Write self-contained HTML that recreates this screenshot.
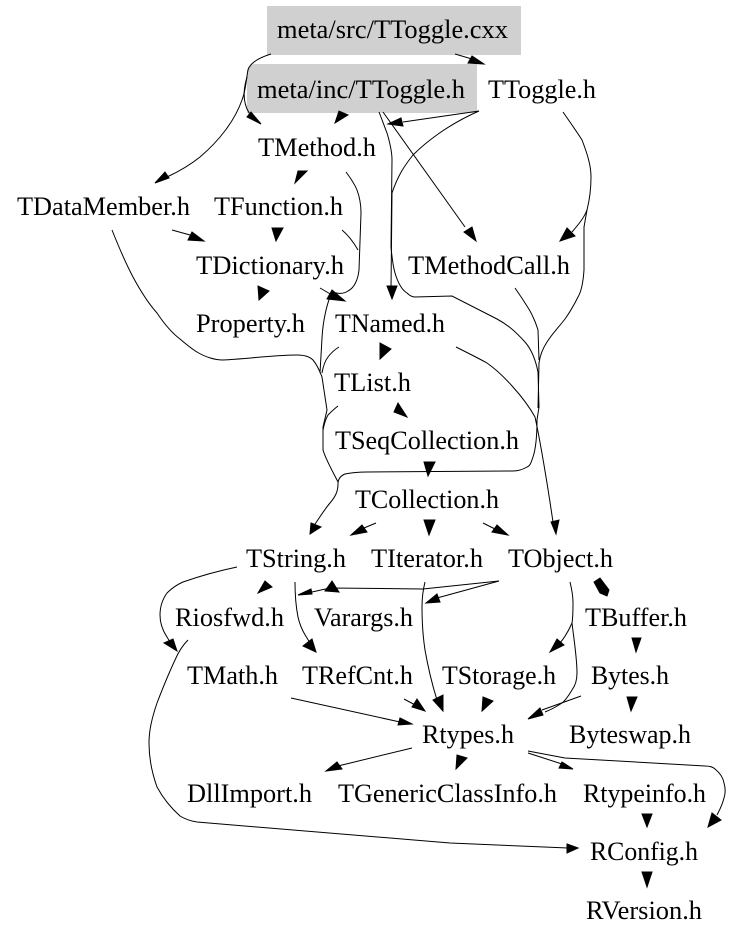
<!DOCTYPE html>
<html><head><meta charset="utf-8"><style>
html,body{margin:0;padding:0;background:#fff}
svg{display:block}
text{font-family:"Liberation Serif",serif;font-size:26.5px;fill:#000}
path{fill:none;stroke:#000;stroke-width:1}
polygon{fill:#000;stroke:#000;stroke-width:1;stroke-linejoin:miter}
</style></head><body>
<svg width="735" height="939" viewBox="0 0 735 939" xmlns="http://www.w3.org/2000/svg">
<rect x="267" y="6" width="254" height="49" fill="#d0d0d0"/>
<path d="M247 72 Q247 64 256 64 L477 64 L477 113 L247 113 Z" style="fill:#d0d0d0;stroke:none"/>

<path d="M271 54 C258 58 250 63 248 70 C246 80 246 90 242 100 C235 120 220 140 200 157 C190 165 180 171 167 177"/>
<path d="M247 77 C243 90 242 105 252 117"/>
<path d="M455 54 L472 59"/>
<path d="M346 172 C352 180 355 185 357 190 C360 198 361 205 361 213 L359 270 C358 280 354 288 348 291 C342 295 337 293 332 292 C327 303 323 320 322 338 L320 373"/>
<path d="M342 230 C348 235 354 243 358 250"/>
<path d="M479 111 L403 122"/>
<path d="M479 111 C447 125 425 143 413 155 C405 165 398 175 392 193 L391 290"/>
<path d="M379 112 C383 122 385 128 387 133 C390 143 392 153 392 160 L391 247 C392 258 393 266 395 273 C398 283 402 290 407 293 C410 296 412 297 415 297 L452 296 L497 319 C508 325 515 331 525 342 C532 350 536 362 538 372 L539 407 L537 420 C537 435 536 448 533 457 C531 463 530 466 527 467 C522 470 518 471 513 471 L367 472 C358 472 350 473 345 474 C340 476 338 480 338 484 C338 492 335 497 330 503 C324 510 318 520 313 527"/>
<path d="M383 112 L465 227"/>
<path d="M563 112 C572 125 577 132 582 140 C587 153 591 165 591 177 C591 190 589 202 587 210 C584 218 578 225 572 232"/>
<path d="M587 210 L584 227 L584 270 C583 285 581 292 578 297 C574 305 570 312 565 319 C558 328 552 334 547 342 C543 348 540 356 539 363 L538 408"/>
<path d="M515 288 C519 294 522 298 525 303 C529 309 531 312 533 317 C536 323 537 327 538 330 L539 360"/>
<path d="M456 347 C468 353 478 358 487 363 C497 370 505 378 513 387 C522 397 530 408 535 417 C540 440 545 470 550 502 L553 522"/>
<path d="M112 230 C118 245 125 262 133 277 C140 290 148 303 157 313 C165 325 172 333 180 339 C187 345 192 349 197 352 C205 357 215 360 223 360 C245 359 275 355 297 355 C305 355 310 357 313 360 C318 366 320 372 322 377 L327 410 L323 427 L323 450 C326 460 333 472 338 482"/>
<path d="M339 347 C334 350 331 353 328 357 C325 361 323 367 322 373"/>
<path d="M338 406 C334 409 331 412 328 415 C325 420 324 425 323 430"/>
<path d="M172 230 L190 235"/>
<path d="M376 523 L364 528"/>
<path d="M483 523 L495 529"/>
<path d="M320 288 L332 295"/>
<path d="M237 567 C218 571 200 576 183 582 C176 585 171 589 167 593 C162 600 160 608 160 615 C160 624 163 631 167 637 L170 642"/>
<path d="M499 581 L423 589 L330 588 L312 592"/>
<path d="M499 581 L437 598"/>
<path d="M295 582 C295 595 296 607 298 617 C300 626 303 632 307 638 L310 643"/>
<path d="M425 582 C423 590 422 598 422 607 C422 622 423 637 425 650 C428 667 432 684 437 700"/>
<path d="M570 582 C572 590 573 597 573 603 C573 610 573 617 572 623 C569 630 565 637 560 643"/>
<path d="M572 623 C574 640 577 658 577 673 C577 680 575 686 572 690 C569 695 566 700 562 703 C556 707 550 710 545 712"/>
<path d="M581 696 L542 710"/>
<path d="M404 699 L417 706"/>
<path d="M291 698 L400 722"/>
<path d="M412 748 L338 766"/>
<path d="M528 753 L562 764"/>
<path d="M528 751 L565 758 L705 766 C710 766 713 767 715 769 C720 773 723 777 724 783 C726 790 725 795 724 798 C722 806 719 811 717 815"/>
<path d="M188 640 C182 646 178 653 175 660 C168 675 162 690 157 703 C152 718 149 730 149 743 C149 758 152 773 157 787 C163 798 171 808 180 816 C185 819 190 821 197 822 L450 843 L568 848"/>

<polygon points="155,183 165,172 169,178"/>
<polygon points="261,124 251,112 247,117"/>
<polygon points="484,64 472,56 468,63"/>
<polygon points="335,123 348,115 339,111"/>
<polygon points="295,183 298,171 307,171"/>
<polygon points="345,301 332,290 327,299"/>
<polygon points="388,124 401,118 403,126"/>
<polygon points="392,299 387,286 397,286"/>
<polygon points="476,241 464,232 472,227"/>
<polygon points="560,241 567,228 575,236"/>
<polygon points="204,241 192,232 188,240"/>
<polygon points="276,241 272,228 283,228"/>
<polygon points="259,300 258,286 269,291"/>
<polygon points="380,359 380,343 391,349"/>
<polygon points="407,417 398,403 394,412"/>
<polygon points="428,476 424,462 435,462"/>
<polygon points="310,534 311,523 321,527"/>
<polygon points="351,535 362,525 367,532"/>
<polygon points="429,535 424,520 435,520"/>
<polygon points="508,535 497,525 492,532"/>
<polygon points="556,534 551,522 559,520"/>
<polygon points="258,593 265,581 272,587"/>
<polygon points="177,651 164,643 173,639"/>
<polygon points="332,581 325,591 339,592"/>
<polygon points="298,595 311,589 312,594"/>
<polygon points="426,603 437,594 440,602"/>
<polygon points="316,652 303,646 312,639"/>
<polygon points="443,711 433,700 443,695"/>
<polygon points="550,652 557,639 564,645"/>
<polygon points="528,719 540,708 543,715"/>
<polygon points="594,582 600,578 609,590 607,596 600,593"/>
<polygon points="636,652 632,638 641,638"/>
<polygon points="631,711 627,697 637,697"/>
<polygon points="425,711 417,699 412,707"/>
<polygon points="412,724 400,718 398,725"/>
<polygon points="482,711 483,697 493,701"/>
<polygon points="326,771 337,762 342,769"/>
<polygon points="456,769 457,755 467,758"/>
<polygon points="573,769 562,762 559,768"/>
<polygon points="708,827 712,813 721,820"/>
<polygon points="647,827 642,814 652,814"/>
<polygon points="647,887 642,872 652,872"/>
<polygon points="578,848 567,844 567,853"/>

<text x="277" y="38" textLength="231" lengthAdjust="spacingAndGlyphs">meta/src/TToggle.cxx</text>
<text x="257" y="98" textLength="208" lengthAdjust="spacingAndGlyphs">meta/inc/TToggle.h</text>
<text x="488" y="98" textLength="108" lengthAdjust="spacingAndGlyphs">TToggle.h</text>
<text x="258" y="156" textLength="118" lengthAdjust="spacingAndGlyphs">TMethod.h</text>
<text x="17" y="215" textLength="173" lengthAdjust="spacingAndGlyphs">TDataMember.h</text>
<text x="214" y="215" textLength="129" lengthAdjust="spacingAndGlyphs">TFunction.h</text>
<text x="196" y="274" textLength="148" lengthAdjust="spacingAndGlyphs">TDictionary.h</text>
<text x="408" y="274" textLength="162" lengthAdjust="spacingAndGlyphs">TMethodCall.h</text>
<text x="196" y="332" textLength="109" lengthAdjust="spacingAndGlyphs">Property.h</text>
<text x="335" y="332" textLength="110" lengthAdjust="spacingAndGlyphs">TNamed.h</text>
<text x="334" y="391" textLength="77" lengthAdjust="spacingAndGlyphs">TList.h</text>
<text x="335" y="449" textLength="184" lengthAdjust="spacingAndGlyphs">TSeqCollection.h</text>
<text x="355" y="508" textLength="144" lengthAdjust="spacingAndGlyphs">TCollection.h</text>
<text x="246" y="567" textLength="100" lengthAdjust="spacingAndGlyphs">TString.h</text>
<text x="371" y="567" textLength="112" lengthAdjust="spacingAndGlyphs">TIterator.h</text>
<text x="508" y="567" textLength="105" lengthAdjust="spacingAndGlyphs">TObject.h</text>
<text x="175" y="626" textLength="109" lengthAdjust="spacingAndGlyphs">Riosfwd.h</text>
<text x="314" y="626" textLength="99" lengthAdjust="spacingAndGlyphs">Varargs.h</text>
<text x="585" y="626" textLength="102" lengthAdjust="spacingAndGlyphs">TBuffer.h</text>
<text x="187" y="684" textLength="91" lengthAdjust="spacingAndGlyphs">TMath.h</text>
<text x="302" y="684" textLength="111" lengthAdjust="spacingAndGlyphs">TRefCnt.h</text>
<text x="442" y="684" textLength="114" lengthAdjust="spacingAndGlyphs">TStorage.h</text>
<text x="591" y="684" textLength="78" lengthAdjust="spacingAndGlyphs">Bytes.h</text>
<text x="422" y="743" textLength="92" lengthAdjust="spacingAndGlyphs">Rtypes.h</text>
<text x="569" y="743" textLength="122" lengthAdjust="spacingAndGlyphs">Byteswap.h</text>
<text x="187" y="802" textLength="125" lengthAdjust="spacingAndGlyphs">DllImport.h</text>
<text x="338" y="802" textLength="219" lengthAdjust="spacingAndGlyphs">TGenericClassInfo.h</text>
<text x="583" y="802" textLength="123" lengthAdjust="spacingAndGlyphs">Rtypeinfo.h</text>
<text x="590" y="860" textLength="108" lengthAdjust="spacingAndGlyphs">RConfig.h</text>
<text x="586" y="919" textLength="116" lengthAdjust="spacingAndGlyphs">RVersion.h</text>
</svg>
</body></html>
